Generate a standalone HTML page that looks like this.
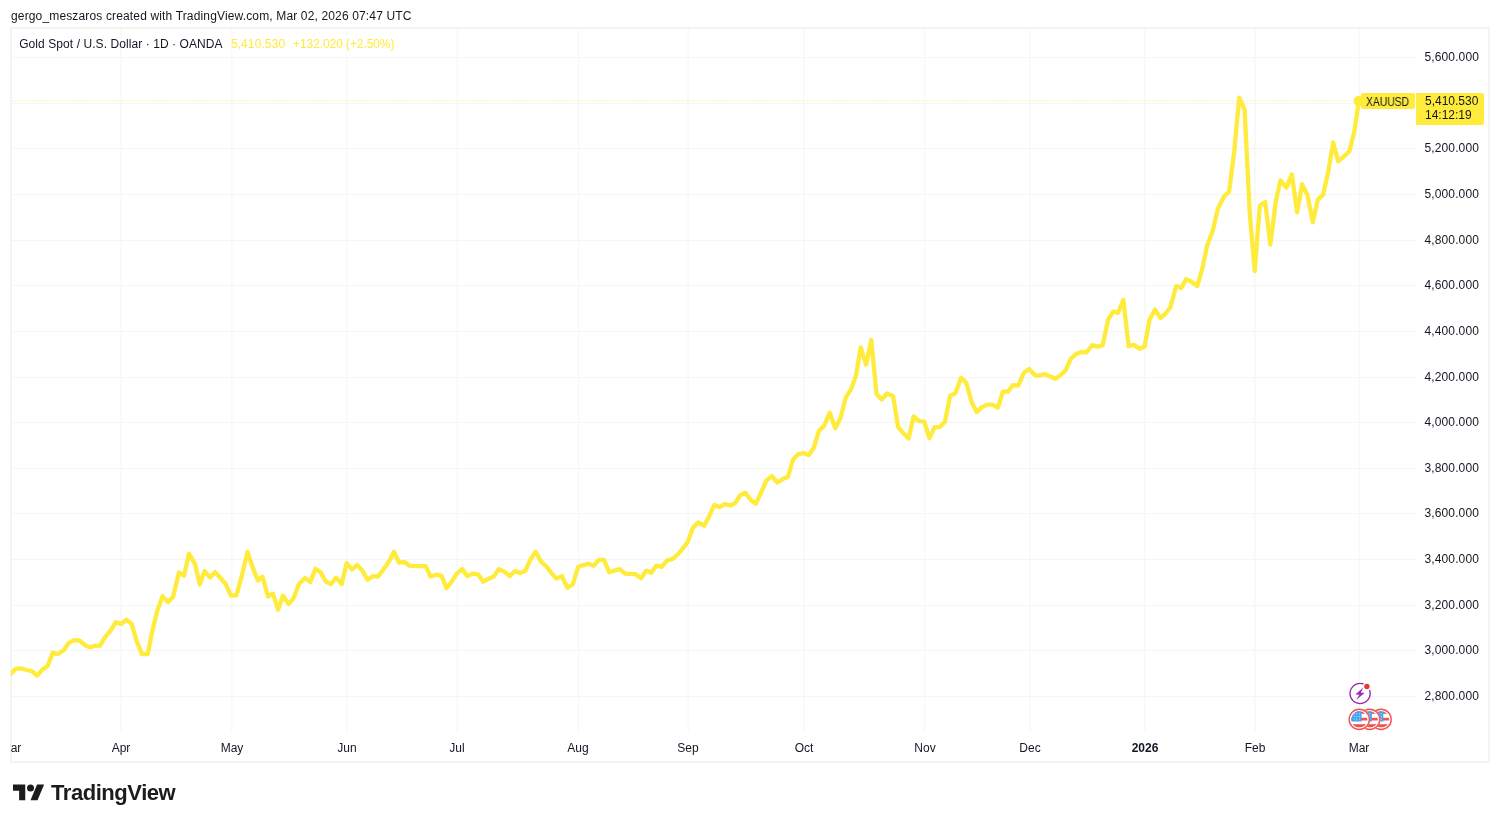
<!DOCTYPE html>
<html lang="en">
<head>
<meta charset="utf-8">
<title>Gold Spot / U.S. Dollar</title>
<style>
html,body{margin:0;padding:0;background:#fff;}
body{width:1500px;height:824px;position:relative;overflow:hidden;-webkit-font-smoothing:antialiased;font-family:"Liberation Sans",sans-serif;color:#131722;font-size:12px;}
.hdr,.legend,.pl,.tl,.sym span,.price div,.logot{will-change:transform;}
.hdr{position:absolute;left:10.5px;top:9.2px;height:14px;line-height:14px;font-size:12px;color:#131722;white-space:nowrap;letter-spacing:0.148px;}
.frame{position:absolute;left:10px;top:27px;width:1476px;height:732px;border:2px solid #f4f4f5;}
.clip{position:absolute;left:12px;top:29px;width:1476px;height:732px;overflow:hidden;}
svg.chart{position:absolute;left:0;top:0;}
.legend{position:absolute;left:0;top:37.3px;height:14px;line-height:14px;white-space:nowrap;font-size:12px;}
.legend span{position:absolute;top:0;white-space:nowrap;}
.legend .t{left:19.2px;letter-spacing:0.074px;}
.legend .v1{left:230.9px;letter-spacing:0.1px;}
.legend .v2{left:293.1px;letter-spacing:-0.09px;}
.legend .y{color:#ffeb3b;}
.pl{position:absolute;right:21px;letter-spacing:0.12px;width:70px;text-align:right;height:16px;line-height:16px;font-size:12px;color:#131722;white-space:nowrap;}
.tl{position:absolute;top:740px;height:16px;line-height:16px;font-size:12px;transform:translateX(-50%);white-space:nowrap;color:#131722;}
.tl.b{font-weight:bold;}
.sym{position:absolute;left:1361.4px;top:92.5px;width:53.2px;height:16.6px;background:#ffeb3b;border-radius:2px;font-size:12px;color:#131722;}
.sym span{position:absolute;left:4.6px;top:2.3px;height:14px;line-height:14px;display:block;transform-origin:0 50%;transform:scaleX(0.862);white-space:nowrap;}
.price{position:absolute;left:1416px;top:92.5px;width:68px;height:32px;background:#ffeb3b;border-radius:0 2px 2px 0;color:#131722;font-size:12px;}
.price div{position:absolute;left:9px;white-space:nowrap;height:14px;line-height:14px;}
.logo{position:absolute;left:12.6px;top:781px;}
.logot{position:absolute;left:51px;top:779px;font-size:22px;font-weight:bold;line-height:28px;height:28px;color:#1c1c1c;letter-spacing:-0.45px;white-space:nowrap;}
</style>
</head>
<body>
<div class="hdr">gergo_meszaros created with TradingView.com, Mar 02, 2026 07:47 UTC</div>
<div class="frame"></div>
<svg class="chart" width="1500" height="824" viewBox="0 0 1500 824">
<g>
<rect x="120.15" y="29" width="1.5" height="703" fill="#f8f8f9"/>
<rect x="230.95" y="29" width="1.5" height="703" fill="#f8f8f9"/>
<rect x="345.95" y="29" width="1.5" height="703" fill="#f8f8f9"/>
<rect x="456.55" y="29" width="1.5" height="703" fill="#f8f8f9"/>
<rect x="577.65" y="29" width="1.5" height="703" fill="#f8f8f9"/>
<rect x="687.45" y="29" width="1.5" height="703" fill="#f8f8f9"/>
<rect x="802.95" y="29" width="1.5" height="703" fill="#f8f8f9"/>
<rect x="923.85" y="29" width="1.5" height="703" fill="#f8f8f9"/>
<rect x="1028.95" y="29" width="1.5" height="703" fill="#f8f8f9"/>
<rect x="1143.95" y="29" width="1.5" height="703" fill="#f8f8f9"/>
<rect x="1254.25" y="29" width="1.5" height="703" fill="#f8f8f9"/>
<rect x="1358.65" y="29" width="1.5" height="703" fill="#f8f8f9"/>
<rect x="12" y="57" width="1404" height="1" fill="#f5f5f6"/>
<rect x="12" y="103" width="1404" height="1" fill="#f5f5f6"/>
<rect x="12" y="148" width="1404" height="1" fill="#f5f5f6"/>
<rect x="12" y="194" width="1404" height="1" fill="#f5f5f6"/>
<rect x="12" y="240" width="1404" height="1" fill="#f5f5f6"/>
<rect x="12" y="285" width="1404" height="1" fill="#f5f5f6"/>
<rect x="12" y="331" width="1404" height="1" fill="#f5f5f6"/>
<rect x="12" y="377" width="1404" height="1" fill="#f5f5f6"/>
<rect x="12" y="422" width="1404" height="1" fill="#f5f5f6"/>
<rect x="12" y="468" width="1404" height="1" fill="#f5f5f6"/>
<rect x="12" y="513" width="1404" height="1" fill="#f5f5f6"/>
<rect x="12" y="559" width="1404" height="1" fill="#f5f5f6"/>
<rect x="12" y="605" width="1404" height="1" fill="#f5f5f6"/>
<rect x="12" y="650" width="1404" height="1" fill="#f5f5f6"/>
<rect x="12" y="696" width="1404" height="1" fill="#f5f5f6"/>
</g>
<line x1="12" y1="101" x2="1356" y2="101" stroke="#ffeb3b" stroke-width="1.2" stroke-dasharray="1 1.5" opacity="0.7"/>
<clipPath id="pc"><rect x="11" y="29" width="1405" height="703"/></clipPath>
<g clip-path="url(#pc)">
<polyline fill="none" stroke="#ffeb3b" stroke-width="4.3" stroke-linejoin="round" stroke-linecap="round" points="5.6,679.5 10.8,673.8 16.1,668.6 21.3,668.5 26.6,670.0 31.8,671.2 37.1,675.6 42.3,669.8 47.6,666.0 52.8,652.8 58.1,654.0 63.7,650.2 69.0,642.8 74.0,640.2 79.7,640.6 85.0,645.2 90.0,647.4 95.0,645.8 100.0,645.6 105.0,637.2 111.0,630.1 115.7,622.1 121.0,624.1 126.5,619.7 131.7,624.1 137.0,642.2 142.0,654.2 147.7,654.2 152.5,630.1 157.5,610.1 162.5,596.1 168.0,602.1 173.0,597.1 179.0,572.5 184.0,575.7 189.0,553.6 195.0,564.0 199.7,584.5 204.7,571.1 210.0,577.5 215.0,572.1 220.0,577.5 225.7,584.1 231.0,595.7 236.5,595.1 242.0,575.1 247.5,552.0 252.5,567.1 258.0,580.5 262.5,576.7 268.0,596.5 273.0,593.7 278.0,609.7 283.0,595.7 288.5,604.1 293.7,598.1 299.0,584.1 305.0,578.1 310.4,582.1 315.4,568.7 320.4,572.1 326.0,581.7 331.0,584.1 336.0,577.7 341.7,584.1 346.7,563.1 352.0,569.5 357.0,565.1 362.0,570.1 367.5,579.7 373.0,576.1 378.0,576.5 383.0,570.1 388.7,562.1 394.0,551.7 399.0,562.5 404.5,562.1 409.5,565.7 415.0,566.1 420.0,566.1 425.6,566.1 430.6,576.5 436.2,574.7 441.4,575.7 446.6,588.1 451.6,581.7 457.2,573.1 462.2,569.1 467.4,576.1 472.6,573.7 477.8,574.1 483.3,581.7 488.7,578.7 493.7,576.5 498.9,569.1 504.3,571.7 509.7,576.1 514.9,571.1 520.3,573.1 525.5,570.5 530.7,559.1 535.7,551.7 541.0,561.7 546.4,566.5 551.4,573.1 556.4,578.5 561.8,576.1 567.4,587.7 572.8,584.5 578.0,567.1 583.4,565.1 588.4,563.7 593.6,565.8 599.0,559.8 604.0,559.8 609.2,572.2 614.4,570.6 619.7,569.2 625.1,573.6 630.1,573.8 635.5,574.2 641.1,578.2 646.1,570.6 651.3,572.8 656.5,565.6 661.7,566.8 666.9,560.6 672.1,559.2 677.3,554.8 682.5,548.8 687.7,542.1 692.8,528.1 698.2,522.5 704.2,525.7 708.8,517.1 714.2,505.1 719.6,507.1 724.6,504.1 730.2,505.5 735.2,503.1 740.2,495.1 745.4,492.7 750.6,499.7 755.8,503.7 761.3,492.1 766.7,480.1 771.9,476.1 777.3,482.5 782.7,479.1 787.9,477.1 792.9,460.0 797.9,454.4 803.3,453.0 808.7,455.0 813.7,448.0 819.0,430.8 824.0,426.1 829.7,412.7 835.3,428.2 840.5,418.1 845.7,397.7 851.1,389.1 856.1,375.1 860.7,347.4 866.1,364.5 871.3,340.0 876.5,394.1 881.7,399.5 887.1,393.5 893.1,396.1 898.1,427.1 903.4,433.2 908.6,438.6 913.6,416.5 919.2,421.1 924.2,421.7 929.4,438.2 934.6,427.1 939.8,427.1 944.8,422.1 950.2,395.7 955.2,393.5 961.2,377.7 966.2,382.7 971.7,402.1 976.7,412.1 981.9,407.1 987.3,404.7 992.3,404.7 997.9,407.5 1002.9,391.7 1007.9,391.7 1012.9,385.1 1018.3,385.7 1023.7,373.1 1029.3,369.1 1034.9,375.1 1039.9,375.5 1044.9,374.1 1050.4,376.5 1055.4,378.7 1060.4,375.1 1065.4,370.7 1071.0,358.5 1076.0,354.0 1081.0,352.0 1086.4,352.4 1092.4,345.2 1097.6,346.6 1102.6,345.2 1108.0,320.2 1113.1,311.6 1118.1,312.8 1123.3,300.1 1128.7,346.2 1133.7,344.8 1139.5,348.8 1144.5,346.8 1149.5,319.8 1155.1,309.6 1160.5,318.2 1165.1,314.2 1170.5,307.1 1176.1,286.1 1181.2,288.1 1186.2,279.1 1191.6,281.7 1197.2,286.1 1202.2,269.1 1207.3,245.0 1212.7,231.0 1218.0,208.5 1223.8,196.7 1229.1,191.5 1234.2,151.8 1239.2,97.7 1244.6,109.5 1249.8,214.0 1254.7,271.0 1259.8,205.7 1265.2,202.0 1270.4,244.5 1275.8,201.4 1280.5,180.4 1286.5,187.6 1291.8,174.4 1297.1,212.3 1302.1,184.2 1307.5,195.2 1312.8,222.2 1317.9,199.4 1323.1,194.7 1328.2,172.0 1333.1,142.4 1338.2,161.2 1343.7,156.6 1349.3,151.5 1354.2,132.4 1358.9,101.0"/>
</g>
<circle cx="1358.9" cy="101" r="5.3" fill="#ffeb3b"/>
</svg>
<div class="legend"><span class="t">Gold Spot / U.S. Dollar · 1D · OANDA</span><span class="y v1">5,410.530</span><span class="y v2">+132.020 (+2.50%)</span></div>
<div class="pl" style="top:49.0px">5,600.000</div>
<div class="pl" style="top:140.3px">5,200.000</div>
<div class="pl" style="top:185.9px">5,000.000</div>
<div class="pl" style="top:231.6px">4,800.000</div>
<div class="pl" style="top:277.2px">4,600.000</div>
<div class="pl" style="top:322.9px">4,400.000</div>
<div class="pl" style="top:368.5px">4,200.000</div>
<div class="pl" style="top:414.1px">4,000.000</div>
<div class="pl" style="top:459.8px">3,800.000</div>
<div class="pl" style="top:505.4px">3,600.000</div>
<div class="pl" style="top:551.1px">3,400.000</div>
<div class="pl" style="top:596.7px">3,200.000</div>
<div class="pl" style="top:642.4px">3,000.000</div>
<div class="pl" style="top:688.0px">2,800.000</div>
<div class="clip" style="left:11px;top:732px;width:1478px;height:29px;"><div style="position:absolute;left:-11px;top:-732px;width:1500px;height:824px;">
<div class="tl" style="left:10.5px">Mar</div>
<div class="tl" style="left:120.9px">Apr</div>
<div class="tl" style="left:231.7px">May</div>
<div class="tl" style="left:346.7px">Jun</div>
<div class="tl" style="left:457.3px">Jul</div>
<div class="tl" style="left:578.4px">Aug</div>
<div class="tl" style="left:688.2px">Sep</div>
<div class="tl" style="left:803.7px">Oct</div>
<div class="tl" style="left:924.6px">Nov</div>
<div class="tl" style="left:1029.7px">Dec</div>
<div class="tl b" style="left:1144.7px">2026</div>
<div class="tl" style="left:1255.0px">Feb</div>
<div class="tl" style="left:1359.4px">Mar</div>
</div></div>
<div class="sym"><span>XAUUSD</span></div>
<div class="price"><div style="top:1.1px">5,410.530</div><div style="top:15.4px">14:12:19</div></div>
<!-- icons -->
<svg class="chart" width="1500" height="824" viewBox="0 0 1500 824">
<defs>
<clipPath id="fc"><circle cx="0" cy="0" r="8.1"/></clipPath>
<g id="flag">
<circle cx="0" cy="0" r="10.8" fill="#fff"/>
<circle cx="0" cy="0" r="10.1" fill="none" stroke="#ef5350" stroke-width="1.4"/>
<g clip-path="url(#fc)">
<rect x="-9" y="-9" width="18" height="18" fill="#fff"/>
<rect x="-9" y="-8.2" width="18" height="2.6" fill="#ef5350"/>
<rect x="-9" y="-1.6" width="18" height="2.7" fill="#ef5350"/>
<rect x="-9" y="4.8" width="18" height="3.4" fill="#ef5350"/>
<rect x="-9" y="-9" width="11.2" height="11.1" fill="#42a5f5"/>
<g fill="#e3f2fd"><circle cx="-5" cy="-5.6" r="0.5"/><circle cx="-2.4" cy="-5.6" r="0.5"/><circle cx="0.2" cy="-5.6" r="0.5"/><circle cx="-5" cy="-3" r="0.5"/><circle cx="-2.4" cy="-3" r="0.5"/><circle cx="0.2" cy="-3" r="0.5"/><circle cx="-5" cy="-0.4" r="0.5"/><circle cx="-2.4" cy="-0.4" r="0.5"/><circle cx="0.2" cy="-0.4" r="0.5"/></g>
</g>
</g>
</defs>
<g>
<circle cx="1360.1" cy="693.5" r="10.1" fill="#fff" stroke="#9c27b0" stroke-width="1.3"/>
<path d="M1362.7 688.2 L1355.9 694.3 L1359.6 694.4 L1356.9 699.2 L1364.2 693 L1360.6 692.9 Z" fill="#9c27b0" stroke="#9c27b0" stroke-width="0.4" stroke-linejoin="round"/>
<circle cx="1366.9" cy="686.5" r="4.3" fill="#fff"/>
<circle cx="1366.9" cy="686.5" r="2.7" fill="#e53935"/>
</g>
<use href="#flag" x="1381.1" y="719.4"/>
<use href="#flag" x="1369.7" y="719.4"/>
<use href="#flag" x="1359.3" y="719.4"/>
</svg>
<svg class="logo" width="31.5" height="24.5" viewBox="0 0 36 28"><path d="M14 22H7V11H0V4h14v18zM28 22h-8l7.5-18h8L28 22z" fill="#1c1c1c"/><circle cx="20" cy="8" r="4" fill="#1c1c1c"/></svg>
<div class="logot">TradingView</div>
</body>
</html>
